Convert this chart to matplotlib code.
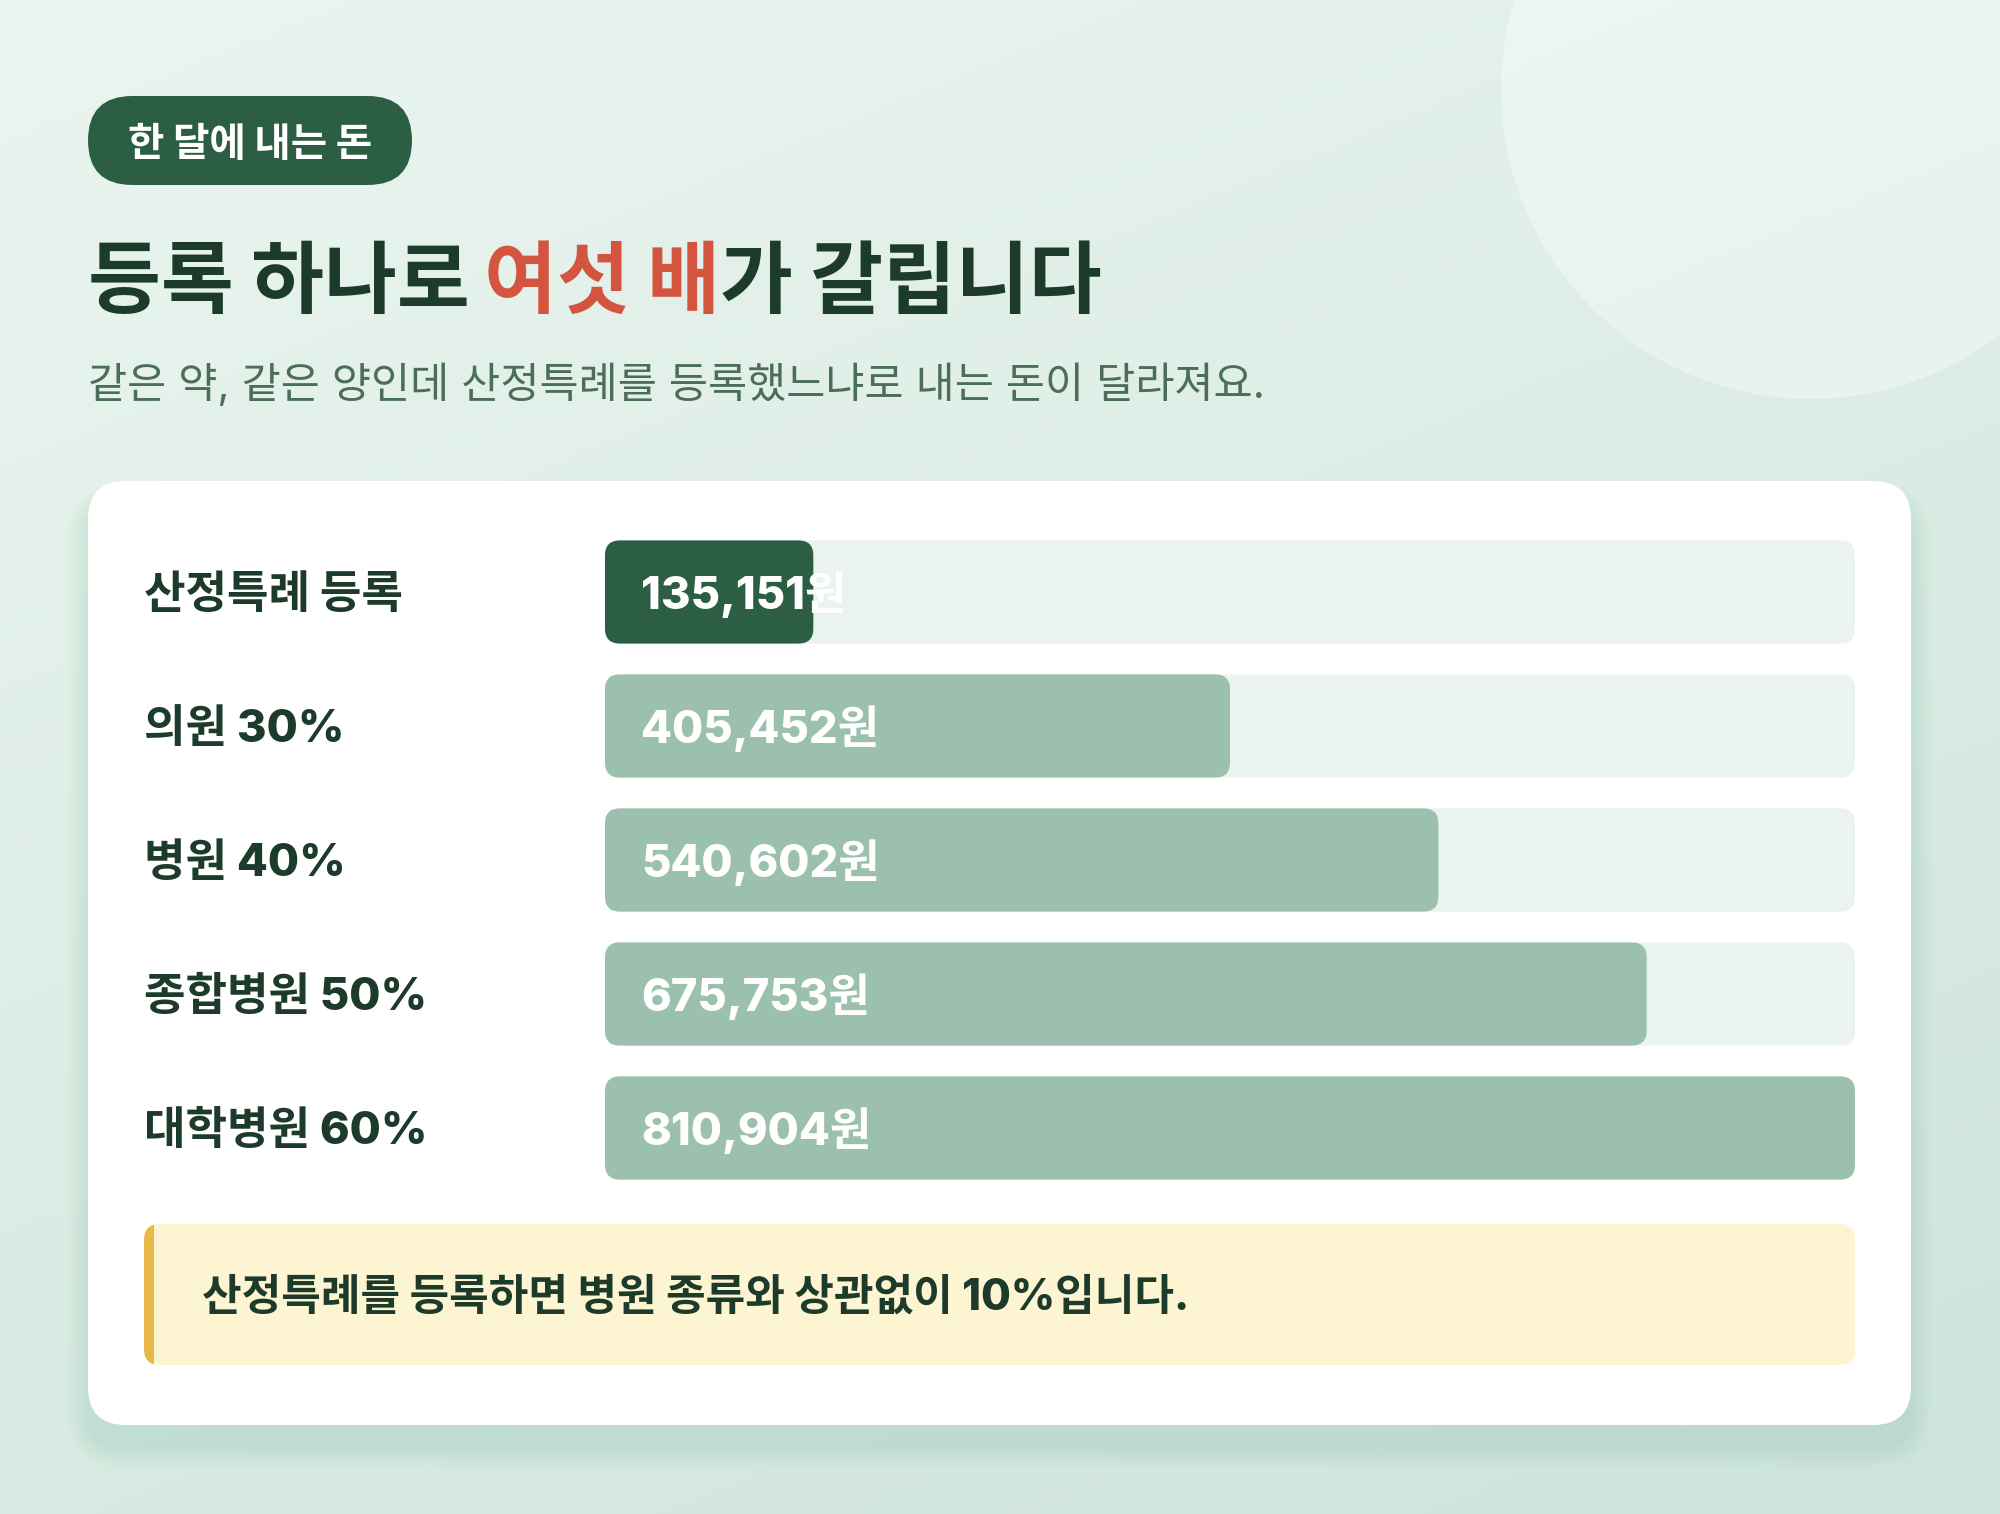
import numpy as np
import matplotlib
matplotlib.use("Agg")
import matplotlib.pyplot as plt
from matplotlib.patches import FancyBboxPatch, Circle, Rectangle

FONT = ['Inter', 'Noto Sans CJK KR', 'DejaVu Sans']
plt.rcParams['font.family'] = FONT

# --- data ---
badge_text = "한 달에 내는 돈"
title_parts = ["등록 하나로", "여섯 배", "가 갈립니다"]
subtitle = "같은 약, 같은 양인데 산정특례를 등록했느냐로 내는 돈이 달라져요."
categories = ["산정특례 등록", "의원 30%", "병원 40%", "종합병원 50%", "대학병원 60%"]
monthly_cost = [135151, 405452, 540602, 675753, 810904]
highlight = [True, False, False, False, False]
note_text = "산정특례를 등록하면 병원 종류와 상관없이 10%입니다."

DARK = "#1d3b2b"
GREEN = "#2c5e43"
LIGHT_BAR = "#9bc0ad"
TRACK = "#eaf3ee"
RED = "#d4553f"

W, H = 2000, 1514
fig = plt.figure(figsize=(W / 100, H / 100), dpi=100)

# background layer in pixel coordinates
bg = fig.add_axes([0, 0, 1, 1])
bg.set_xlim(0, W)
bg.set_ylim(H, 0)
bg.axis('off')
yy, xx = np.mgrid[0:1:300j, 0:1:300j]
t = 0.65 * yy + 0.35 * xx
c0 = np.array([0xeb, 0xf5, 0xf0]) / 255
c1 = np.array([0xcd, 0xe4, 0xda]) / 255
grad = c0[None, None, :] * (1 - t[..., None]) + c1[None, None, :] * t[..., None]
bg.imshow(grad, extent=[0, W, H, 0], aspect='auto', zorder=0)
bg.add_patch(Circle((1811, 89), 310, color='white', alpha=0.35, lw=0, zorder=1))

# card with soft shadow (mostly below)
for i in range(12):
    g = 1 + i * 1.8
    bg.add_patch(FancyBboxPatch((88 - g, 481 - g + 22), 1823 + 2 * g, 944 + 2 * g,
                                boxstyle=f"round,pad=0,rounding_size={38 + g}",
                                color="#6f9f88", alpha=0.012, lw=0, zorder=2))
bg.add_patch(FancyBboxPatch((88, 481), 1823, 944, boxstyle="round,pad=0,rounding_size=38",
                            color='white', lw=0, zorder=3))

# badge
bg.add_patch(FancyBboxPatch((88, 96), 324, 89, boxstyle="round,pad=0,rounding_size=44.5",
                            color=GREEN, lw=0, zorder=3))
bg.text(250, 145, badge_text, color='white', fontsize=28.5, fontweight='heavy',
        ha='center', va='center', zorder=4)

# title in three colored pieces
renderer = fig.canvas.get_renderer()
tsize = 57
probe_a = bg.text(0, 0, "가 가", fontsize=tsize, fontweight='heavy')
probe_b = bg.text(0, 0, "가가", fontsize=tsize, fontweight='heavy')
space_w = probe_a.get_window_extent(renderer).width - probe_b.get_window_extent(renderer).width
probe_a.remove()
probe_b.remove()
space_w *= 0.8
x = 88
for part, color, gap in zip(title_parts, [DARK, RED, DARK], [space_w, 0, 0]):
    txt = bg.text(x, 307, part, color=color, fontsize=tsize, fontweight='heavy',
                  ha='left', va='baseline', zorder=4)
    x += txt.get_window_extent(renderer).width + gap

bg.text(88, 398, subtitle, color="#4b6e5b", fontsize=30.6, ha='left', va='baseline', zorder=4)

# bar chart area
n = len(categories)
ax_left, ax_w = 605, 1250
ax_top, ax_h = 525, 670
ax = fig.add_axes([ax_left / W, 1 - (ax_top + ax_h) / H, ax_w / W, ax_h / H])
ax.set_zorder(5)
ax.patch.set_alpha(0)
vmax = max(monthly_cost)
ax.set_xlim(0, vmax)
ax.set_ylim(n - 0.5, -0.5)
ax.axis('off')

ypos = np.arange(n)
tracks = ax.barh(ypos, [vmax] * n, height=0.77)
bars = ax.barh(ypos, monthly_cost, height=0.77)

ux = vmax / ax_w
uy = n / ax_h


def round_rect(rect, color, r_px=15, z=1):
    x0, y0 = rect.get_xy()
    p = FancyBboxPatch((x0, y0), rect.get_width(), rect.get_height(),
                       boxstyle=f"round,pad=0,rounding_size={r_px * ux}",
                       mutation_aspect=uy / ux, color=color, lw=0, zorder=z)
    rect.set_visible(False)
    ax.add_patch(p)


for rect in tracks:
    round_rect(rect, TRACK, z=1)
for rect, hi in zip(bars, highlight):
    round_rect(rect, GREEN if hi else LIGHT_BAR, z=2)

for i, (cat, v) in enumerate(zip(categories, monthly_cost)):
    ax.annotate(f"{v:,}원", xy=(0, i), xytext=(36, -3), textcoords='offset pixels',
                color='white', fontsize=32.5, fontweight='heavy', ha='left', va='center', zorder=3)
    ax.annotate(cat, xy=(0, i), xytext=(144 - ax_left, -4), textcoords='offset pixels',
                color=DARK, fontsize=32.5, fontweight='heavy', ha='left', va='center',
                annotation_clip=False)

# note box
note = FancyBboxPatch((144, 1224), 1711, 141, boxstyle="round,pad=0,rounding_size=16",
                      color="#fdf4d2", lw=0, zorder=4)
bg.add_patch(note)
edge = Rectangle((144, 1224), 10, 141, color="#e8b84a", lw=0, zorder=5)
bg.add_patch(edge)
edge.set_clip_path(note)
bg.text(202, 1298, note_text, color=DARK, fontsize=31, fontweight='heavy',
        ha='left', va='center', zorder=6)

fig.savefig("out.png", dpi=100)
